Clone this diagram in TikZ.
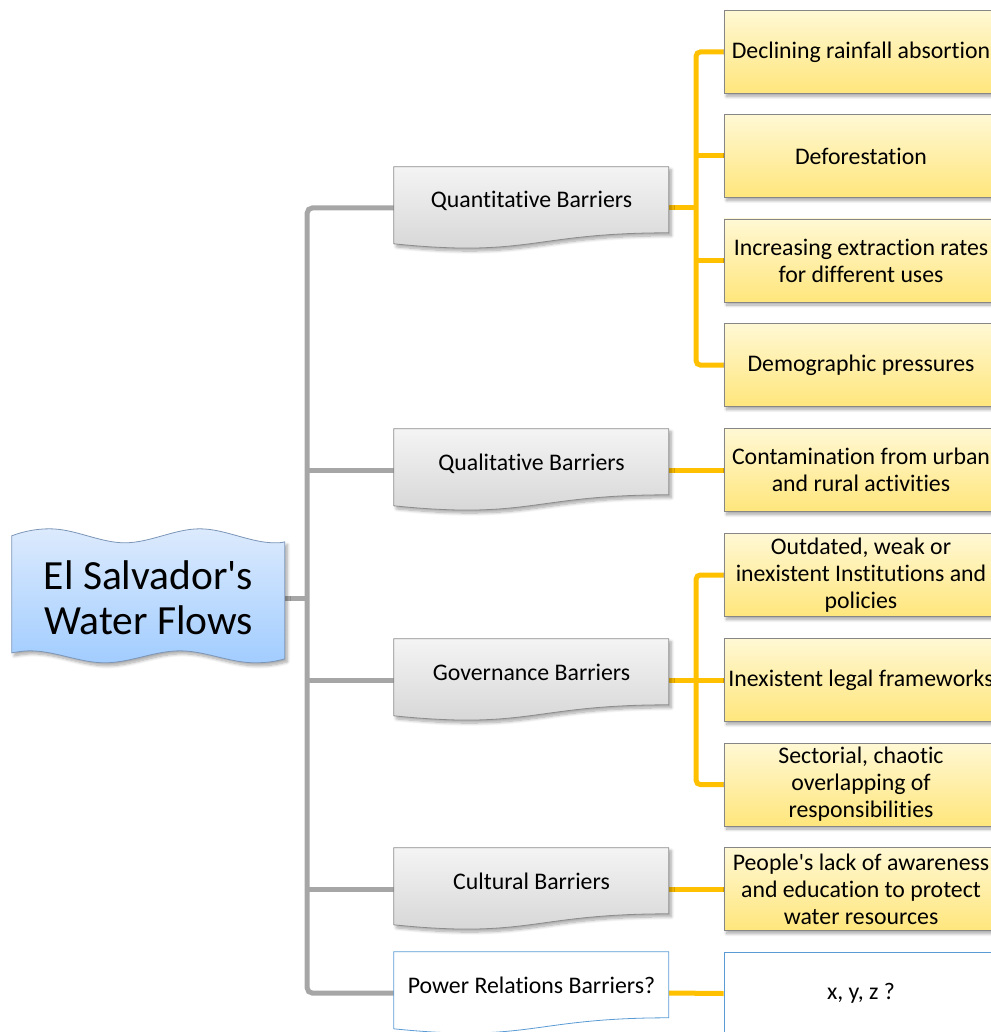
\documentclass[tikz,border=0pt]{standalone}
\usepackage{fontspec}
\setmainfont{Carlito}[Ligatures=NoCommon]
\usetikzlibrary{calc,shadows.blur}
\pgfdeclarelayer{background}
\pgfsetlayers{background,main}

\definecolor{linkgray}{HTML}{A6A6A6}
\definecolor{linkgold}{HTML}{FFC000}
\definecolor{roottop}{HTML}{DCEAFD}
\definecolor{rootbottom}{HTML}{A2CDFF}
\definecolor{rootedge}{HTML}{7C96B8}
\definecolor{doctop}{HTML}{F4F4F4}
\definecolor{docbottom}{HTML}{D4D4D4}
\definecolor{docedge}{HTML}{8C8C8C}
\definecolor{causetop}{HTML}{FFF8D4}
\definecolor{causebottom}{HTML}{FFE67C}
\definecolor{causeedge}{HTML}{868686}
\definecolor{openedge}{HTML}{5B9BD5}

% document-style box: flat top, wavy bottom edge
\newcommand\docshape[2]{%
  \path[#2, shift={(#1.north west)}] (0,0) -- (275,0) -- (275,66)
    .. controls (137.5,66) and (137.5,91) .. (0,77) -- cycle;}

\begin{document}
\begin{tikzpicture}[x=1pt,y=-1pt,
  shadowed/.style={blur shadow={shadow xshift=2.5pt, shadow yshift=-3pt,
      shadow blur radius=3pt, shadow blur steps=8, shadow opacity=35}},
  rootlabel/.style={font=\fontsize{41.5}{45}\selectfont, align=center,
      minimum width=273pt, minimum height=121pt, inner sep=0pt},
  barrier/.style={font=\fontsize{23.8}{27}\selectfont, minimum width=275pt,
      inner sep=0pt, text height=41pt, text depth=41pt},
  cause/.style={font=\fontsize{23.8}{27}\selectfont, align=center,
      minimum width=274pt, minimum height=83pt, inner sep=0pt,
      draw=causeedge, line width=0.8pt, top color=causetop,
      bottom color=causebottom, shadowed},
  opencause/.style={font=\fontsize{23.8}{27}\selectfont, align=center,
      minimum width=274pt, minimum height=83pt, inner sep=0pt,
      draw=openedge, line width=0.8pt, fill=white},
  docfill/.style={draw=docedge, line width=0.8pt, top color=doctop,
      bottom color=docbottom, shadowed},
  docopen/.style={draw=openedge, line width=0.8pt, fill=white},
  rootfill/.style={draw=rootedge, line width=0.8pt, top color=roottop,
      bottom color=rootbottom, shadowed},
  graylink/.style={draw=linkgray, line width=5pt, rounded corners=5pt},
  goldlink/.style={draw=linkgold, line width=5pt, rounded corners=4pt}]

\useasboundingbox (0,0) rectangle (990,1032);

% root
\node[rootlabel] (root) at (148.5,598) {El Salvador\textquotesingle s\\Water Flows};

% barrier categories
\node[barrier] (qb) at (531.5,208) {Quantitative Barriers};
\node[barrier] (ql) at (531.5,470) {Qualitative Barriers};
\node[barrier] (gv) at (531.5,680) {Governance Barriers};
\node[barrier] (cu) at (531.5,889) {Cultural Barriers};
\node[barrier] (pw) at (531.5,993) {Power Relations Barriers?};

% causes
\node[cause] (q1) at (861,52) {Declining rainfall absortion};
\node[cause] (q2) at (861,156) {Deforestation};
\node[cause] (q3) at (861,260.5) {Increasing extraction rates\\for different uses};
\node[cause] (q4) at (861,365) {Demographic pressures};
\node[cause] (c1) at (861,470) {Contamination from urban\\and rural activities};
\node[cause] (g1) at (861,575) {Outdated, weak or\\inexistent Institutions and\\policies};
\node[cause] (g2) at (861,680) {Inexistent legal frameworks};
\node[cause] (g3) at (861,784.5) {Sectorial, chaotic\\overlapping of\\responsibilities};
\node[cause] (cw) at (861,889) {People\textquotesingle s lack of awareness\\and education to protect\\water resources};
\node[opencause] (px) at (861,993.5) {x, y, z ?};

\begin{pgfonlayer}{background}
  % grey tree from the root to the categories
  \coordinate (trunk) at ($(root.east)+(22,0)$);
  \draw[graylink] (qb.west) -| (trunk) |- (pw.west);
  \draw[graylink] (root.east) -- (trunk);
  \draw[graylink] (trunk |- ql.west) -- (ql.west);
  \draw[graylink] (trunk |- gv.west) -- (gv.west);
  \draw[graylink] (trunk |- cu.west) -- (cu.west);

  % gold links from the categories to the causes
  \coordinate (qbus) at ($(qb.east)+(27,0)$);
  \draw[goldlink] (q1.west) -| (qbus) |- (q4.west);
  \draw[goldlink] (qb.east) -- (qbus);
  \draw[goldlink] (qbus |- q2.west) -- (q2.west);
  \draw[goldlink] (qbus |- q3.west) -- (q3.west);
  \draw[goldlink] (ql.east) -- (c1.west);
  \coordinate (gbus) at ($(gv.east)+(27,0)$);
  \draw[goldlink] (g1.west) -| (gbus) |- (g3.west);
  \draw[goldlink] (gv.east) -- (gbus);
  \draw[goldlink] (gbus |- g2.west) -- (g2.west);
  \draw[goldlink] (cu.east) -- (cw.west);
  \draw[goldlink] (pw.east) -- (px.west);

  % root banner with wavy top and bottom
  \path[rootfill, shift={($(root.north west)+(0,-1.5)$)}]
    (0,0) .. controls (13,-5) and (26,-7) .. (38,-7)
    .. controls (63,-7) and (88,7) .. (113,7)
    .. controls (138,7) and (163,-7) .. (188,-7)
    .. controls (213,-7) and (238,7) .. (263,7)
    .. controls (266,7) and (270,7) .. (273,6)
    -- (273,123)
    .. controls (263,126) and (253,127) .. (243,127)
    .. controls (218,127) and (193,115) .. (168,115)
    .. controls (143,115) and (118,127) .. (93,127)
    .. controls (68,127) and (43,115) .. (18,115)
    .. controls (12,115) and (6,116) .. (0,117) -- cycle;

  % category boxes
  \docshape{qb}{docfill}
  \docshape{ql}{docfill}
  \docshape{gv}{docfill}
  \docshape{cu}{docfill}
  \docshape{pw}{docopen}
\end{pgfonlayer}
\end{tikzpicture}
\end{document}
